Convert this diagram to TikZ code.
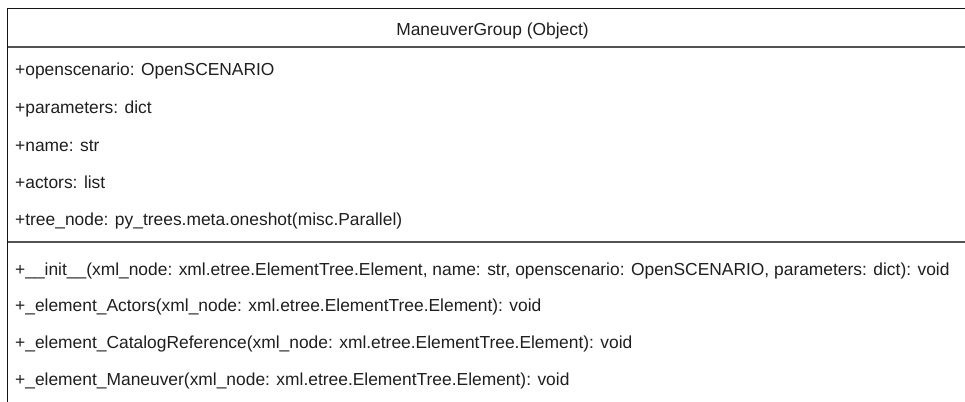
\documentclass[tikz,border=0pt]{standalone}
\usepackage{fontspec}
\setmainfont{Liberation Sans}
\begin{document}
\begin{tikzpicture}[x=1pt,y=-1pt,
  member/.style={anchor=base west,inner sep=0pt,font=\fontsize{17.4}{20}\selectfont,text=black!88},
  title/.style={anchor=base,inner sep=0pt,font=\fontsize{17.4}{20}\selectfont,text=black!88},
  frame/.style={line width=1.6pt,draw=black!92},
  divider/.style={line width=1.6pt,draw=black!68}]
\useasboundingbox[fill=white] (0,0) rectangle (965,401);
\clip (0,0) rectangle (965,401);
% class frame (open to the right and bottom)
\draw[frame] (980,8.5) -- (7.5,8.5) -- (7.5,415);
\draw[divider] (7.5,47) -- (980,47);
\draw[divider] (7.5,242) -- (980,242);
% class name
\node[title] (cname) at (492.5,36) {ManeuverGroup (Object)};
% attributes
\node[member] (a1) at (15,76) {+openscenario: OpenSCENARIO};
\node[member] (a2) at (15,113.5) {+parameters: dict};
\node[member] (a3) at (15,151) {+name: str};
\node[member] (a4) at (15,188) {+actors: list};
\node[member] (a5) at (15,225) {+tree\_node: py\_trees.meta.oneshot(misc.Parallel)};
% operations
\node[member] (m1) at (15,275) {+\_\_init\_\_(xml\_node: xml.etree.ElementTree.Element, name: str, openscenario: OpenSCENARIO, parameters: dict): void};
\node[member] (m2) at (15,311.5) {+\_element\_Actors(xml\_node: xml.etree.ElementTree.Element): void};
\node[member] (m3) at (15,348) {+\_element\_CatalogReference(xml\_node: xml.etree.ElementTree.Element): void};
\node[member] (m4) at (15,385) {+\_element\_Maneuver(xml\_node: xml.etree.ElementTree.Element): void};
\end{tikzpicture}
\end{document}
